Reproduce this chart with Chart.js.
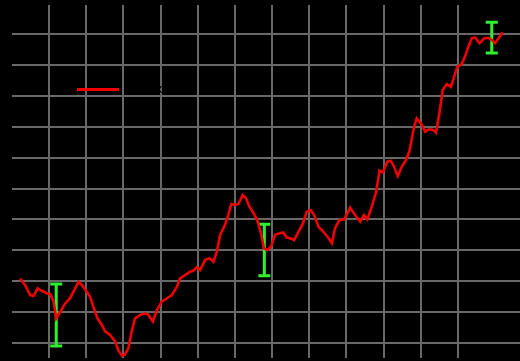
<!DOCTYPE html>
<html>
<head>
<meta charset="utf-8">
<script src="https://cdn.jsdelivr.net/npm/chart.js@4/dist/chart.umd.min.js"></script>
<style>
  html, body { margin: 0; padding: 0; background: #000; }
  #wrap { width: 520px; height: 361px; }
</style>
</head>
<body>
<div id="wrap"><canvas id="chart" width="520" height="361"></canvas></div>
<script>
// Series: sample positions and values
const xs = [2.2, 3.5, 4.9, 5.8, 6.9, 8.0, 9.4, 10.3, 11.2, 11.9,
  13.0, 14.3, 15.6, 17.0, 17.9, 18.8, 20.1, 21.0, 21.9, 23.0,
  24.2, 25.1, 26.4, 27.8, 28.6, 29.6, 30.4, 31.3, 32.2, 33.1,
  34.5, 35.8, 36.7, 37.9, 39.0, 40.3, 41.7, 43.0, 44.4, 45.2,
  46.6, 47.9, 48.8, 49.7, 50.6, 52.0, 53.1, 54.2, 55.1, 56.0,
  57.3, 58.2, 59.0, 60.0, 60.9, 62.1, 63.0, 63.9, 65.0, 66.0,
  67.0, 67.8, 68.7, 69.7, 70.8, 72.1, 73.0, 73.9, 75.3, 75.9,
  77.1, 78.3, 79.3, 80.4, 81.3, 82.5, 83.8, 84.9, 86.1, 86.9,
  88.1, 89.4, 91.0, 92.3, 93.7, 94.7, 95.6, 96.8, 98.0, 98.9,
  99.8, 101.0, 101.9, 102.8, 103.8, 104.9, 106.0, 106.9, 107.6, 108.2,
  108.9, 110.0, 111.2, 112.3, 113.4, 114.1, 115.0, 115.9, 117.0, 118.1,
  119.0, 119.8, 121.0, 121.9, 122.8, 123.7, 124.6, 125.8, 127.0, 128.2,
  129.1, 130.0, 130.9, 132.1];
const ys = [20.9, 18.8, 15.5, 15.2, 17.7, 16.9, 16.1, 15.8, 13.4, 8.0,
  10.1, 12.8, 14.5, 17.7, 19.8, 18.8, 16.6, 15.0, 11.7, 8.0,
  5.8, 3.7, 2.6, 0.4, -2.3, -4.1, -3.7, -1.7, 3.7, 8.0,
  9.1, 9.6, 9.1, 6.9, 10.7, 13.4, 14.5, 15.5, 18.2, 20.9,
  22.0, 23.1, 23.4, 24.5, 23.6, 26.9, 27.4, 26.3, 29.5, 35.0,
  38.2, 41.4, 45.0, 44.7, 45.0, 47.9, 46.8, 44.1, 42.0, 39.8,
  35.5, 30.6, 30.1, 31.2, 35.0, 35.5, 35.8, 34.2, 33.7, 33.3,
  36.0, 38.7, 42.5, 43.0, 41.4, 37.6, 36.0, 34.4, 32.3, 37.1,
  39.8, 40.0, 43.8, 41.4, 39.3, 41.4, 40.0, 44.1, 49.0, 55.8,
  55.2, 58.7, 59.0, 57.1, 54.0, 57.1, 59.2, 61.9, 66.2, 70.0,
  72.7, 71.1, 68.4, 69.2, 68.9, 68.1, 74.3, 81.9, 83.8, 82.9,
  86.2, 89.4, 90.3, 92.7, 95.9, 98.6, 98.9, 97.0, 98.6, 98.8,
  98.1, 97.0, 98.6, 100.6];

// Error ranges at three sample positions
const errX = [11.9, 67.9, 129.1];
const errLow = [-1.0, 21.8, 93.9];
const errHigh = [19.1, 38.4, 103.8];

const seriesLabel = 'Index';

const points = xs.map((x, i) => ({ x: x, y: ys[i] }));

// Vertical error bars with caps, placed through the chart scales
const errorBars = {
  id: 'errorBars',
  beforeDatasetsDraw(chart) {
    const { ctx, scales: { x, y } } = chart;
    ctx.save();
    ctx.strokeStyle = '#2ef02e';
    ctx.lineWidth = 3;
    ctx.lineCap = 'butt';
    errX.forEach((v, i) => {
      const px = x.getPixelForValue(v);
      const top = y.getPixelForValue(errHigh[i]);
      const bot = y.getPixelForValue(errLow[i]);
      ctx.beginPath();
      ctx.moveTo(px, top); ctx.lineTo(px, bot);
      ctx.moveTo(px - 6, top); ctx.lineTo(px + 6, top);
      ctx.moveTo(px - 6, bot); ctx.lineTo(px + 6, bot);
      ctx.stroke();
    });
    ctx.restore();
  }
};

// Legend drawn inside the plot area
const innerLegend = {
  id: 'innerLegend',
  afterDraw(chart) {
    const { ctx, chartArea } = chart;
    const ds = chart.data.datasets[0];
    const lx = chartArea.left + 65, ly = chartArea.top + 84.5;
    ctx.save();
    ctx.strokeStyle = ds.borderColor;
    ctx.lineWidth = 3;
    ctx.beginPath();
    ctx.moveTo(lx, ly); ctx.lineTo(lx + 42, ly);
    ctx.stroke();
    ctx.fillStyle = '#000';
    ctx.font = '13px "DejaVu Sans"';
    ctx.textBaseline = 'middle';
    ctx.fillText(ds.label, lx + 50, ly);
    ctx.restore();
  }
};

const gridOpts = { color: '#686868', lineWidth: 2, drawTicks: false };

new Chart(document.getElementById('chart'), {
  type: 'line',
  data: {
    datasets: [{
      label: seriesLabel,
      data: points,
      borderColor: '#f00000',
      borderWidth: 2.6,
      pointRadius: 0,
      tension: 0,
      fill: false
    }]
  },
  options: {
    responsive: false,
    animation: false,
    devicePixelRatio: 1,
    layout: { padding: { left: 12, top: 5, right: 0, bottom: 3 } },
    plugins: { legend: { display: false }, tooltip: { enabled: false } },
    scales: {
      x: {
        type: 'linear',
        min: 0, max: 136.7,
        ticks: { display: false, stepSize: 10 },
        afterBuildTicks: (s) => { s.ticks = s.ticks.filter(t => t.value > 0 && t.value < 136.7); },
        grid: gridOpts,
        border: { display: false }
      },
      y: {
        type: 'linear',
        min: -4.85, max: 109.4,
        ticks: { display: false, stepSize: 10 },
        afterBuildTicks: (s) => { s.ticks = s.ticks.filter(t => t.value > -4.85 && t.value < 109.4 && Math.abs(t.value % 10) < 1e-6); },
        grid: gridOpts,
        border: { display: false }
      }
    }
  },
  plugins: [errorBars, innerLegend]
});
</script>
</body>
</html>
